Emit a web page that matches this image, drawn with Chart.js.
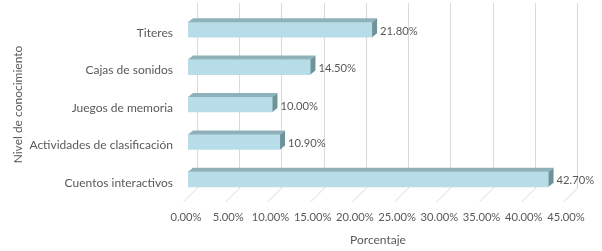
<!DOCTYPE html>
<html>
<head>
<meta charset="utf-8">
<script src="https://cdn.jsdelivr.net/npm/chart.js@4/dist/chart.umd.min.js"></script>
<style>
html,body{margin:0;padding:0;background:#fff;}
#wrap{width:602px;height:251px;position:relative;}
</style>
</head>
<body>
<div id="wrap"><canvas id="c" width="602" height="251"></canvas></div>
<script>
const categories = ["Titeres", "Cajas de sonidos", "Juegos de memoria", "Actividades de clasificación", "Cuentos interactivos"];
const values = [21.8, 14.5, 10.0, 10.9, 42.7];
const xTicks = [0, 5, 10, 15, 20, 25, 30, 35, 40, 45];
const xTitle = "Porcentaje";
const yTitle = "Nivel de conocimiento";

const FONT = "Lato, 'Liberation Sans', sans-serif";
const FS = 12;
const FN = 11.2;
const TXT = "#595959";
const DX = 5, DY = 4;        // bar depth
const WX = 9;                // back wall offset

const gridPlugin = {
  id: 'grid3d',
  beforeDatasetsDraw(chart) {
    const {ctx, chartArea, scales} = chart;
    const xs = scales.x;
    ctx.save();
    ctx.strokeStyle = '#d9d9d9';
    ctx.lineWidth = 1;
    xs.ticks.forEach(t => {
      const x = Math.round(xs.getPixelForValue(t.value)) + 0.5;
      ctx.beginPath();
      ctx.moveTo(x + WX, chartArea.top - 8);
      ctx.lineTo(x + WX, chartArea.bottom - 10);
      ctx.lineTo(x - 5, chartArea.bottom + 4);
      ctx.stroke();
    });
    ctx.restore();
  }
};

const bar3dPlugin = {
  id: 'bar3d',
  afterDatasetsDraw(chart) {
    const {ctx} = chart;
    const meta = chart.getDatasetMeta(0);
    ctx.save();
    meta.data.forEach((bar, i) => {
      const p = bar.getProps(['x', 'y', 'base', 'height'], true);
      const t = p.y - p.height / 2, b = p.y + p.height / 2;
      ctx.fillStyle = '#8fb1b9';
      ctx.beginPath();
      ctx.moveTo(p.base, t);
      ctx.lineTo(p.base + DX, t - DY);
      ctx.lineTo(p.x + DX, t - DY);
      ctx.lineTo(p.x, t);
      ctx.closePath();
      ctx.fill();
      ctx.fillStyle = '#6f939b';
      ctx.beginPath();
      ctx.moveTo(p.x, t);
      ctx.lineTo(p.x + DX, t - DY);
      ctx.lineTo(p.x + DX, b - DY);
      ctx.lineTo(p.x, b);
      ctx.closePath();
      ctx.fill();
      ctx.fillStyle = TXT;
      ctx.font = FN + "px " + FONT;
      ctx.textAlign = 'left';
      ctx.textBaseline = 'middle';
      ctx.fillText(values[i].toFixed(2) + '%', p.x + DX + 3, p.y + 1.5);
    });
    ctx.restore();
  }
};

new Chart(document.getElementById('c'), {
  type: 'bar',
  data: {
    labels: categories,
    datasets: [{
      data: values,
      backgroundColor: '#b7dee8',
      borderWidth: 0,
      barThickness: 15
    }]
  },
  options: {
    indexAxis: 'y',
    responsive: false,
    animation: false,
    devicePixelRatio: 1,
    layout: { padding: { top: 11, right: 34, left: 0, bottom: 0 } },
    plugins: { legend: { display: false }, tooltip: { enabled: false } },
    scales: {
      x: {
        min: 0, max: 45,
        afterBuildTicks(s) { s.ticks = xTicks.map(v => ({ value: v })); },
        afterFit(s) { s.height = 53; s.paddingLeft = 0; s.paddingRight = 0; },
        grid: { display: false, drawTicks: false },
        border: { display: false },
        ticks: {
          autoSkip: false,
          padding: 13,
          labelOffset: -2,
          color: TXT,
          font: { family: FONT, size: FN },
          maxRotation: 0,
          callback: v => Number(v).toFixed(2) + '%'
        },
        title: {
          display: true, text: xTitle, color: TXT,
          font: { family: FONT, size: FS },
          padding: { top: 0, bottom: 4 }
        }
      },
      y: {
        afterFit(s) { s.width = 188; s.paddingTop = 0; s.paddingBottom = 0; },
        grid: { display: false, drawTicks: false },
        border: { display: false },
        ticks: {
          autoSkip: false,
          padding: 15,
          labelOffset: 3.5,
          color: TXT,
          font: { family: FONT, size: FS }
        },
        title: {
          display: true, text: yTitle, color: TXT,
          font: { family: FONT, size: FS },
          padding: { top: 11, bottom: 0 }
        }
      }
    }
  },
  plugins: [gridPlugin, bar3dPlugin]
});
</script>
</body>
</html>
